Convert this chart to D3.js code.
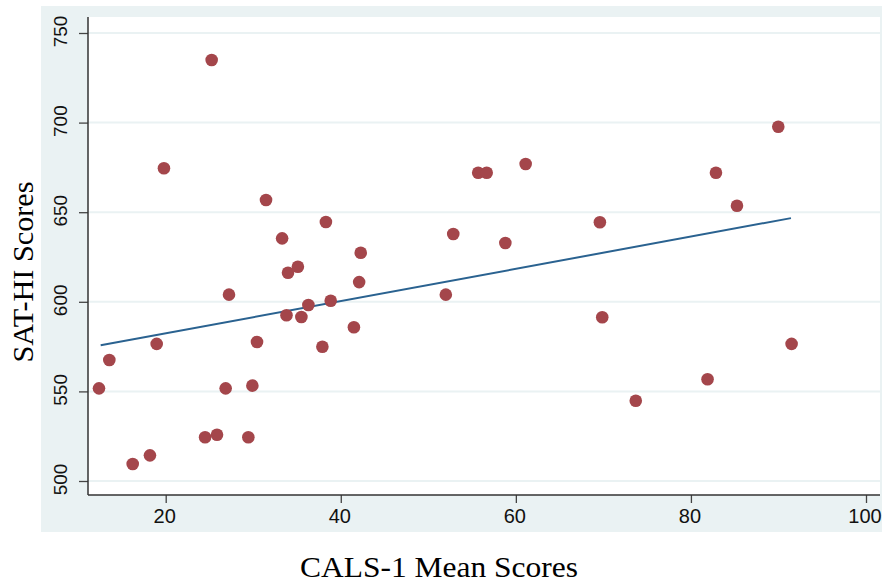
<!DOCTYPE html>
<html>
<head>
<meta charset="utf-8">
<script src="https://cdn.jsdelivr.net/npm/d3@7/dist/d3.min.js"></script>
<style>
  html, body { margin: 0; padding: 0; background: #ffffff; }
  svg { display: block; }
</style>
</head>
<body>
<svg id="chart" width="882" height="582"></svg>
<script>
// CALS-1 mean scores (x) and SAT-HI scores (y)
const calsScores = [25.25, 19.8, 31.46, 38.3, 33.3, 42.28, 35.1, 33.97, 42.1, 27.23,
  52.0, 36.3, 38.85, 33.8, 35.5, 41.5, 18.97, 30.43, 37.9, 13.56,
  12.38, 26.85, 29.9, 24.5, 25.86, 29.44, 18.2, 16.23, 89.98, 55.7,
  56.67, 61.12, 82.86, 85.26, 69.6, 52.85, 58.8, 69.87, 91.5, 81.9, 73.7];
const satScores = [734.9, 674.5, 656.8, 644.5, 635.4, 627.4, 619.6, 616.2, 611.0, 604.0,
  604.0, 598.2, 600.6, 592.5, 591.5, 585.8, 576.5, 577.6, 574.9, 567.5,
  551.7, 551.7, 553.2, 524.4, 525.8, 524.4, 514.3, 509.5, 697.7, 672.0,
  672.0, 676.9, 672.0, 653.6, 644.4, 637.8, 632.8, 591.4, 576.5, 556.8, 544.8];
// fitted line end points
const fitX = [12.57, 91.43];
const fitY = [575.7, 646.7];
const xTicks = [20, 40, 60, 80, 100];
const yTicks = [500, 550, 600, 650, 700, 750];
const xTitle = "CALS-1 Mean Scores";
const yTitle = "SAT-HI Scores";

const svg = d3.select("#chart");

// panel geometry
const outer = { x0: 41, y0: 6, x1: 882, y1: 532 };
const plot = { x0: 88, y0: 17, x1: 880, y1: 495 };

const x = d3.scaleLinear().domain([20, 100]).range([165.7, 866]);
const y = d3.scaleLinear().domain([500, 750]).range([481, 33]);

// background (Stata-like light blue)
svg.append("rect")
  .attr("x", outer.x0).attr("y", outer.y0)
  .attr("width", outer.x1 - outer.x0).attr("height", outer.y1 - outer.y0)
  .attr("fill", "#eaf2f3");
svg.append("rect")
  .attr("x", plot.x0).attr("y", plot.y0)
  .attr("width", plot.x1 - plot.x0).attr("height", plot.y1 - plot.y0)
  .attr("fill", "#ffffff");

// gridlines
svg.append("g").selectAll("line").data(yTicks).join("line")
  .attr("x1", plot.x0).attr("x2", plot.x1)
  .attr("y1", d => y(d)).attr("y2", d => y(d))
  .attr("stroke", "#eaf2f3").attr("stroke-width", 2);

// axes
const fontAxis = "'Liberation Sans', Arial, Helvetica, sans-serif";
const yAxis = d3.axisLeft(y).tickValues(yTicks).tickSize(9).tickPadding(4).tickFormat(d3.format("d"));
const yg = svg.append("g").attr("transform", `translate(${plot.x0},0)`).call(yAxis);
yg.select(".domain").remove();
yg.selectAll(".tick line").attr("stroke", "#444").attr("stroke-width", 1.3);
yg.selectAll(".tick text")
  .attr("x", null).attr("dy", null)
  .attr("text-anchor", "middle")
  .attr("transform", "translate(-21,-2) rotate(-90)")
  .attr("font-family", fontAxis).attr("font-size", 19).attr("fill", "#111");
svg.append("line")
  .attr("x1", plot.x0).attr("x2", plot.x0).attr("y1", plot.y0).attr("y2", plot.y1)
  .attr("stroke", "#333").attr("stroke-width", 1.5);

const xAxis = d3.axisBottom(x).tickValues(xTicks).tickSize(8).tickPadding(6).tickFormat(d3.format("d"));
const xg = svg.append("g").attr("transform", `translate(0,${plot.y1})`).call(xAxis);
xg.select(".domain").remove();
xg.selectAll(".tick line").attr("stroke", "#444").attr("stroke-width", 1.3);
xg.selectAll(".tick text")
  .attr("x", -1.5)
  .attr("font-family", fontAxis).attr("font-size", 20).attr("fill", "#111");
svg.append("line")
  .attr("x1", plot.x0).attr("x2", plot.x1).attr("y1", plot.y1).attr("y2", plot.y1)
  .attr("stroke", "#333").attr("stroke-width", 1.5);

// fitted line
svg.append("line")
  .attr("x1", x(fitX[0])).attr("y1", y(fitY[0]))
  .attr("x2", x(fitX[1])).attr("y2", y(fitY[1]))
  .attr("stroke", "#2a6290").attr("stroke-width", 2);

// points
const pts = calsScores.map((v, i) => ({ cx: v, cy: satScores[i] }));
svg.append("g").selectAll("circle").data(pts).join("circle")
  .attr("cx", d => x(d.cx)).attr("cy", d => y(d.cy))
  .attr("r", 6.3)
  .attr("fill", "#a4464b");

// axis titles (serif, from the document)
const fontTitle = "'Liberation Serif', 'DejaVu Serif', serif";
svg.append("text")
  .attr("x", 439).attr("y", 577)
  .attr("text-anchor", "middle")
  .attr("font-family", fontTitle).attr("font-size", 30).attr("fill", "#000")
  .attr("textLength", 278).attr("lengthAdjust", "spacingAndGlyphs")
  .text(xTitle);
svg.append("text")
  .attr("transform", "translate(33,272) rotate(-90)")
  .attr("text-anchor", "middle")
  .attr("font-family", fontTitle).attr("font-size", 30).attr("fill", "#000")
  .attr("textLength", 181).attr("lengthAdjust", "spacingAndGlyphs")
  .text(yTitle);
</script>
</body>
</html>
